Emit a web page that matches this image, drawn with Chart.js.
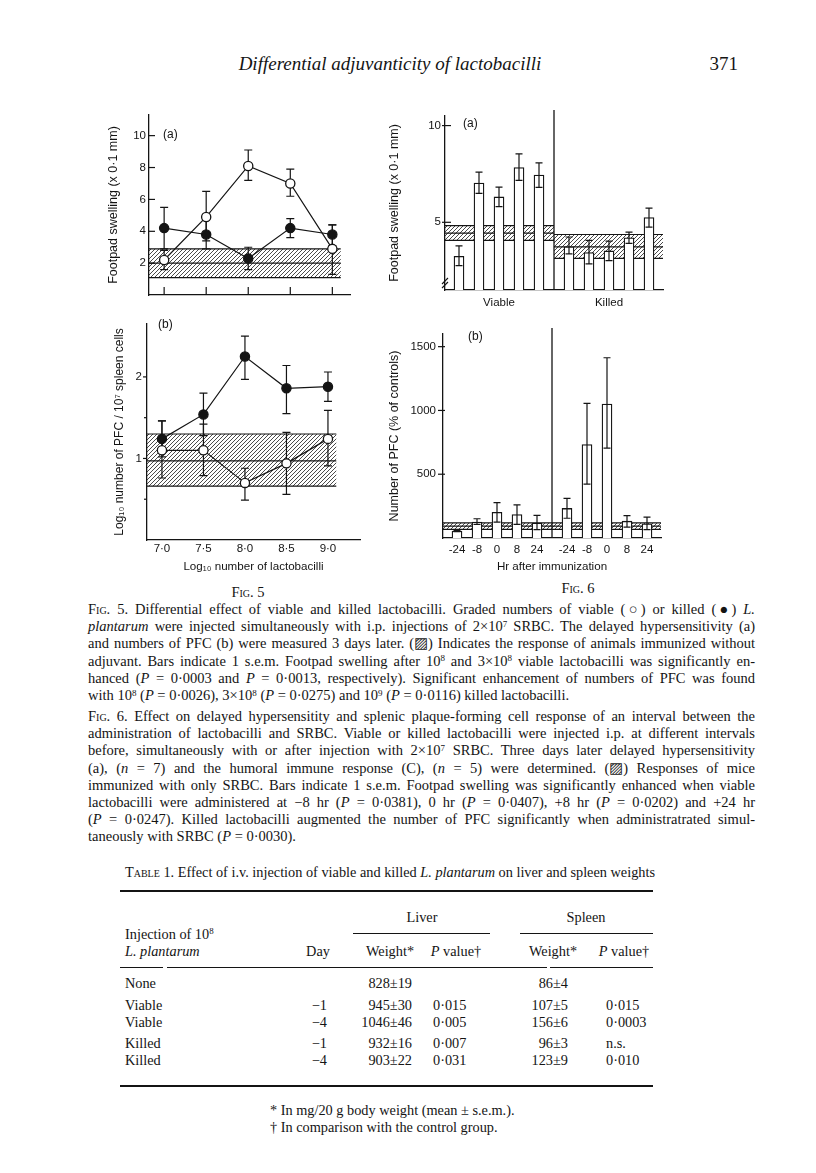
<!DOCTYPE html>
<html><head><meta charset="utf-8">
<script src="https://cdn.jsdelivr.net/npm/chart.js@4.4.1/dist/chart.umd.min.js"></script>
<style>
body{margin:0;background:#fff;}
#page{position:relative;width:816px;height:1173px;background:#fff;overflow:hidden;font-family:"Liberation Serif","Times New Roman",serif;color:#141414;}
canvas{position:absolute;}
.t{position:absolute;white-space:nowrap;}
.lbl{position:absolute;font-family:"Liberation Sans",Arial,sans-serif;font-size:12px;color:#141414;white-space:nowrap;}
.cap{position:absolute;left:88px;width:667px;font-size:14.5px;line-height:17.2px;}
.cap div{white-space:nowrap;text-align:justify;text-align-last:justify;}
.cap div.last{text-align-last:left;}
.sc{font-variant:small-caps;}
sup{font-size:0.62em;position:relative;top:-0.5em;vertical-align:baseline;line-height:0;}
i{font-style:italic;}
.rule{position:absolute;background:#141414;}
</style>
</head>
<body>
<div id="page">
  <div class="t" style="left:0;width:780px;text-align:center;top:52px;font-size:19px;line-height:24px;font-style:italic;">Differential adjuvanticity of lactobacilli</div>
  <div class="t" style="left:700px;width:38px;text-align:right;top:52px;font-size:19px;line-height:24px;">371</div>

  <canvas id="c5a" width="270" height="200" style="left:95px;top:105px;width:270px;height:200px;"></canvas>
  <canvas id="c5b" width="280" height="262" style="left:95px;top:312px;width:280px;height:262px;"></canvas>
  <canvas id="c6a" width="300" height="215" style="left:380px;top:105px;width:300px;height:215px;"></canvas>
  <canvas id="c6b" width="300" height="256" style="left:380px;top:320px;width:300px;height:256px;"></canvas>

  <div class="lbl" style="left:163px;top:127px;">(a)</div>
  <div class="lbl" style="left:158px;top:317px;">(b)</div>
  <div class="lbl" style="left:463px;top:116px;">(a)</div>
  <div class="lbl" style="left:468px;top:329px;">(b)</div>

  <div class="t" style="left:198px;width:100px;text-align:center;top:582px;font-size:14.5px;line-height:20px;"><span class="sc">Fig.</span> 5</div>
  <div class="t" style="left:528px;width:100px;text-align:center;top:578px;font-size:14.5px;line-height:20px;"><span class="sc">Fig.</span> 6</div>

  <div class="cap" style="top:601px;">
    <div><span class="sc">Fig.</span> 5. Differential effect of viable and killed lactobacilli. Graded numbers of viable (○) or killed (●) <i>L.</i></div>
    <div><i>plantarum</i> were injected simultaneously with i.p. injections of 2×10<sup>7</sup> SRBC. The delayed hypersensitivity (a)</div>
    <div>and numbers of PFC (b) were measured 3 days later. (▨) Indicates the response of animals immunized without</div>
    <div>adjuvant. Bars indicate 1 s.e.m. Footpad swelling after 10<sup>8</sup> and 3×10<sup>8</sup> viable lactobacilli was significantly en-</div>
    <div>hanced (<i>P</i> = 0·0003 and <i>P</i> = 0·0013, respectively). Significant enhancement of numbers of PFC was found</div>
    <div class="last">with 10<sup>8</sup> (<i>P</i> = 0·0026), 3×10<sup>8</sup> (<i>P</i> = 0·0275) and 10<sup>9</sup> (<i>P</i> = 0·0116) killed lactobacilli.</div>
  </div>
  <div class="cap" style="top:708px;">
    <div><span class="sc">Fig.</span> 6. Effect on delayed hypersensitity and splenic plaque-forming cell response of an interval between the</div>
    <div>administration of lactobacilli and SRBC. Viable or killed lactobacilli were injected i.p. at different intervals</div>
    <div>before, simultaneously with or after injection with 2×10<sup>7</sup> SRBC. Three days later delayed hypersensitivity</div>
    <div>(a), (<i>n</i> = 7) and the humoral immune response (C), (<i>n</i> = 5) were determined. (▨) Responses of mice</div>
    <div>immunized with only SRBC. Bars indicate 1 s.e.m. Footpad swelling was significantly enhanced when viable</div>
    <div>lactobacilli were administered at −8 hr (<i>P</i> = 0·0381), 0 hr (<i>P</i> = 0·0407), +8 hr (<i>P</i> = 0·0202) and +24 hr</div>
    <div>(<i>P</i> = 0·0247). Killed lactobacilli augmented the number of PFC significantly when administratrated simul-</div>
    <div class="last">taneously with SRBC (<i>P</i> = 0·0030).</div>
  </div>
</div>

<script>
// ---------------- DATA ----------------
// Fig. 5 – x axis: log10 number of lactobacilli
const logDose = [7.0, 7.5, 8.0, 8.5, 9.0];
const logDoseLabels = ['7·0', '7·5', '8·0', '8·5', '9·0'];

// Fig. 5(a) footpad swelling (x 0·1 mm)
const swellViable   = [2.2, 4.9, 8.1, 7.0, 2.9];
const swellViableLo = [1.6, 3.4, 7.2, 6.2, 1.3];
const swellViableHi = [2.8, 6.5, 9.1, 7.9, 4.4];
const swellKilled   = [4.2, 3.8, 2.3, 4.2, 3.8];
const swellKilledLo = [2.9, 2.9, 1.6, 3.6, 3.1];
const swellKilledHi = [5.5, 4.8, 3.0, 4.8, 4.4];
const swellControl  = [1.1, 2.0, 2.9];          // low, mean, high
const swellTicks    = [2, 4, 6, 8, 10];
const swellTickLabels = ['2', '4', '6', '8', '10'];

// Fig. 5(b) log10 PFC / 10^7 spleen cells
const pfcViable   = [1.10, 1.10, 0.70, 0.94, 1.24];
const pfcViableLo = [0.76, 0.79, 0.49, 0.56, 0.91];
const pfcViableHi = [1.46, 1.42, 0.88, 1.32, 1.59];
const pfcKilled   = [1.24, 1.54, 2.25, 1.86, 1.88];
const pfcKilledLo = [1.02, 1.28, 1.97, 1.55, 1.70];
const pfcKilledHi = [1.46, 1.80, 2.50, 2.14, 2.06];
const pfcControl  = [0.66, 0.97, 1.30];
const pfcTicks    = [0.5, 1, 1.5, 2];
const pfcTickLabels = ['', '1', '', '2'];
const controlBandEnd5 = 9.1;

// Fig. 6 – hours after immunization, viable / killed groups
const hours  = ['-24', '-8', '0', '8', '24'];
const groups = ['Viable', 'Killed'];

// Fig. 6(a) footpad swelling
const fp6Viable   = [3.24, 7.03, 6.31, 7.83, 7.44];
const fp6ViableLo = [2.76, 6.49, 5.81, 7.17, 6.80];
const fp6ViableHi = [3.78, 7.59, 6.82, 8.54, 8.07];
const fp6Killed   = [3.73, 3.44, 3.52, 4.20, 5.25];
const fp6KilledLo = [3.37, 2.85, 3.02, 3.91, 4.75];
const fp6KilledHi = [4.24, 4.07, 4.03, 4.49, 5.73];
const fp6ControlViable = [4.07, 4.44, 4.83];
const fp6ControlKilled = [3.13, 3.73, 4.37];
const fp6Ticks = [5, 10];
const fp6TickLabels = ['5', '10'];

// Fig. 6(b) number of PFC (% of controls)
const pfc6Viable   = [55, 125, 201, 184, 117];
const pfc6ViableLo = [50, 107, 125, 107, 66];
const pfc6ViableHi = [60, 151, 278, 260, 178];
const pfc6Killed   = [232, 732, 1050, 132, 112];
const pfc6KilledLo = [155, 423, 704, 86, 66];
const pfc6KilledHi = [311, 1056, 1413, 176, 163];
const pfc6ControlViable = [68, 93, 118];
const pfc6ControlKilled = [68, 93, 118];
const pfc6Ticks = [500, 1000, 1500];
const pfc6TickLabels = ['500', '1000', '1500'];

// Table 1
const tableTreatment = ['None', 'Viable', 'Viable', 'Killed', 'Killed'];
const tableDay       = ['', '−1', '−4', '−1', '−4'];
const liverWeight    = ['828±19', '945±30', '1046±46', '932±16', '903±22'];
const liverP         = ['', '0·015', '0·005', '0·007', '0·031'];
const spleenWeight   = ['86±4', '107±5', '156±6', '96±3', '123±9'];
const spleenP        = ['', '0·015', '0·0003', 'n.s.', '0·010'];

// ---------------- HELPERS ----------------
const INK = '#141414';
const SANS = '"Liberation Sans", Arial, sans-serif';

function hatchPattern(ctx) {
  const c = document.createElement('canvas');
  c.width = 4; c.height = 4;
  const g = c.getContext('2d');
  g.strokeStyle = '#2a2a2a'; g.lineWidth = 0.85;
  g.beginPath();
  g.moveTo(0, 4); g.lineTo(4, 0);
  g.moveTo(-1, 1); g.lineTo(1, -1);
  g.moveTo(3, 5); g.lineTo(5, 3);
  g.stroke();
  return ctx.createPattern(c, 'repeat');
}

const bandPlugin = {
  id: 'bands',
  beforeDatasetsDraw(chart, args, opts) {
    const items = opts.items || [];
    const ctx = chart.ctx, xs = chart.scales.x, ys = chart.scales.y;
    items.forEach(b => {
      const x0 = xs.getPixelForValue(b.x0), x1 = xs.getPixelForValue(b.x1);
      const yl = ys.getPixelForValue(b.v[0]), ym = ys.getPixelForValue(b.v[1]), yh = ys.getPixelForValue(b.v[2]);
      ctx.save();
      ctx.fillStyle = hatchPattern(ctx);
      ctx.fillRect(x0, yh, x1 - x0, yl - yh);
      ctx.strokeStyle = INK; ctx.lineWidth = 1.2;
      ctx.beginPath();
      [yl, ym, yh].forEach(y => { ctx.moveTo(x0, y); ctx.lineTo(x1, y); });
      ctx.stroke();
      ctx.restore();
    });
  }
};

function drawErr(chart, opts) {
  const ctx = chart.ctx, ys = chart.scales.y;
  const cap = opts.cap || 4;
  ctx.save();
  ctx.strokeStyle = INK; ctx.lineWidth = 1.2;
  (opts.sets || []).forEach(s => {
    const meta = chart.getDatasetMeta(s.ds);
    meta.data.forEach((el, i) => {
      const x = el.x;
      const yl = ys.getPixelForValue(s.lo[i]), yh = ys.getPixelForValue(s.hi[i]);
      ctx.beginPath();
      ctx.moveTo(x, yl); ctx.lineTo(x, yh);
      ctx.moveTo(x - cap, yl); ctx.lineTo(x + cap, yl);
      ctx.moveTo(x - cap, yh); ctx.lineTo(x + cap, yh);
      ctx.stroke();
    });
  });
  ctx.restore();
}
const errPlugin = {
  id: 'errbars',
  beforeDatasetsDraw(chart, args, opts) { if (opts.before) drawErr(chart, opts); },
  afterDatasetsDraw(chart, args, opts) { if (!opts.before) drawErr(chart, opts); }
};

const tickPlugin = {
  id: 'tickmarks',
  afterDraw(chart, args, opts) {
    const ctx = chart.ctx;
    ctx.save(); ctx.strokeStyle = INK; ctx.lineWidth = 1.2;
    ['x', 'y'].forEach(k => {
      const o = opts[k]; if (!o) return;
      const s = chart.scales[k];
      s.ticks.forEach(t => {
        const p = s.getPixelForValue(t.value);
        const minor = (t.label === '' || t.label === undefined) && o.minorOut !== undefined;
        const out = minor ? o.minorOut : (o.out || 0), inn = minor ? 0 : (o.inn || 0);
        ctx.beginPath();
        if (k === 'y') { const a = s.right; ctx.moveTo(a - out, p); ctx.lineTo(a + inn, p); }
        else { const a = s.top; ctx.moveTo(p, a + out); ctx.lineTo(p, a - inn); }
        ctx.stroke();
      });
    });
    ctx.restore();
  }
};

const decoPlugin = {
  id: 'deco',
  afterDatasetsDraw(chart, args, opts) {
    const ctx = chart.ctx, ca = chart.chartArea;
    ctx.save(); ctx.strokeStyle = INK; ctx.lineWidth = 1.3;
    if (opts.divider !== undefined) {
      const x = chart.scales.x.getPixelForValue(opts.divider);
      ctx.beginPath(); ctx.moveTo(x, ca.top - 6); ctx.lineTo(x, ca.bottom); ctx.stroke();
    }
    if (opts.axisBreak) {
      const x = ca.left, y = ca.bottom - 9;
      ctx.lineWidth = 1.1;
      ctx.beginPath();
      ctx.moveTo(x - 3, y + 3); ctx.lineTo(x + 3, y - 3);
      ctx.moveTo(x - 3, y + 7); ctx.lineTo(x + 3, y + 1);
      ctx.stroke();
    }
    ctx.restore();
  }
};

function yAxis(o) {
  const ts = o.tsize || 12.5;
  return {
    type: 'linear', position: 'left', min: o.min, max: o.max, offset: false,
    afterFit: s => { s.width = o.width; },
    afterBuildTicks: s => { s.ticks = o.ticks.map(v => ({ value: v })); },
    ticks: { autoSkip: false, color: INK, font: { family: SANS, size: 11.5 }, padding: o.pad,
             callback: (v, i) => o.labels[i] },
    grid: { display: false, drawTicks: false, offset: false },
    border: { display: true, color: INK, width: 1.3 },
    title: { display: !!o.title, text: o.title, color: INK, font: { family: SANS, size: ts },
             padding: { top: o.tpad, bottom: 0 } }
  };
}
function xAxis(o) {
  return {
    type: 'linear', position: 'bottom', min: o.min, max: o.max, offset: false,
    afterFit: s => { s.height = o.height; },
    afterBuildTicks: s => { s.ticks = o.ticks.map(v => ({ value: v })); },
    ticks: { display: !!o.labels, autoSkip: false, maxRotation: 0, color: INK,
             font: { family: SANS, size: 11.5 }, padding: o.pad || 0,
             callback: (v, i) => (o.labels ? o.labels[i] : '') },
    grid: { display: false, drawTicks: false, offset: false },
    border: { display: true, color: INK, width: 1.3 },
    title: { display: !!o.title, text: o.title, color: INK, font: { family: SANS, size: 11.6 },
             padding: { top: 0, bottom: 0 } }
  };
}
const baseOpts = { responsive: false, devicePixelRatio: 1, animation: false };
const noUI = { legend: { display: false }, tooltip: { enabled: false } };

function lineSet(xs, ys, filled) {
  return {
    data: xs.map((x, i) => ({ x, y: ys[i] })),
    borderColor: INK, borderWidth: 1.2, tension: 0,
    pointRadius: 4.6, pointBorderWidth: 1.3, pointBorderColor: INK,
    pointBackgroundColor: filled ? INK : '#fff'
  };
}

// ---------------- FIG 5(a) ----------------
new Chart(document.getElementById('c5a'), {
  type: 'line',
  data: { datasets: [lineSet(logDose, swellKilled, true), lineSet(logDose, swellViable, false)] },
  options: Object.assign({}, baseOpts, {
    layout: { padding: { left: 0, top: 8, right: 15, bottom: 0 } },
    scales: {
      x: xAxis({ min: 6.82, max: 9.21, height: 3, ticks: logDose }),
      y: yAxis({ min: 0, max: 11.3, width: 54, pad: 3, ticks: swellTicks, labels: swellTickLabels,
                 title: 'Footpad swelling (x 0·1 mm)', tpad: 11.5 })
    },
    plugins: Object.assign({}, noUI, {
      bands: { items: [{ x0: 6.82, x1: controlBandEnd5, v: swellControl }] },
      errbars: { before: true, cap: 4, sets: [
        { ds: 0, lo: swellKilledLo, hi: swellKilledHi },
        { ds: 1, lo: swellViableLo, hi: swellViableHi } ] },
      tickmarks: { y: { out: 0, inn: 6 }, x: { out: 0, inn: 8 } }
    })
  }),
  plugins: [bandPlugin, errPlugin, tickPlugin]
});

// ---------------- FIG 5(b) ----------------
new Chart(document.getElementById('c5b'), {
  type: 'line',
  data: { datasets: [lineSet(logDose, pfcKilled, true), lineSet(logDose, pfcViable, false)] },
  options: Object.assign({}, baseOpts, {
    layout: { padding: { left: 0, top: 7, right: 15, bottom: 0 } },
    scales: {
      x: xAxis({ min: 6.82, max: 9.386, height: 34, ticks: logDose, labels: logDoseLabels, pad: 2,
                 title: 'Log₁₀ number of lactobacilli' }),
      y: yAxis({ min: 0, max: 2.65, width: 52, pad: 5, ticks: pfcTicks, labels: pfcTickLabels,
                 title: 'Log₁₀ number of PFC / 10⁷ spleen cells', tpad: 17.8, tsize: 12 })
    },
    plugins: Object.assign({}, noUI, {
      bands: { items: [{ x0: 6.82, x1: controlBandEnd5, v: pfcControl }] },
      errbars: { before: true, cap: 4, sets: [
        { ds: 0, lo: pfcKilledLo, hi: pfcKilledHi },
        { ds: 1, lo: pfcViableLo, hi: pfcViableHi } ] },
      tickmarks: { y: { out: 4, inn: 0, minorOut: 3 } }
    })
  }),
  plugins: [bandPlugin, errPlugin, tickPlugin]
});

// ---------------- FIG 6 ----------------
const slot = (g, i) => g * 11 + 2 * i;            // bar slot on the x scale
const barSlots = groups.flatMap((g, gi) => hours.map((h, i) => slot(gi, i)));
const barLabels = groups.flatMap(() => hours);
const dividerSlot = (slot(0, hours.length - 1) + slot(1, 0)) / 2;
const groupCentres = groups.map((g, gi) => slot(gi, (hours.length - 1) / 2));
const X6MIN = -1.4, X6MAX = 20.4;

function barSet(vals) {
  return {
    data: barSlots.map((x, i) => ({ x, y: vals[i] })),
    backgroundColor: '#fff', borderColor: INK, borderWidth: 1.3,
    barThickness: 10
  };
}

new Chart(document.getElementById('c6a'), {
  type: 'bar',
  data: { datasets: [barSet(fp6Viable.concat(fp6Killed))] },
  options: Object.assign({}, baseOpts, {
    layout: { padding: { left: 0, top: 8, right: 17, bottom: 0 } },
    scales: {
      x: xAxis({ min: X6MIN, max: X6MAX, height: 30, ticks: groupCentres, labels: groups, pad: 6 }),
      y: yAxis({ min: 1.5, max: 10.5, width: 65, pad: 4, ticks: fp6Ticks, labels: fp6TickLabels,
                 title: 'Footpad swelling (x 0·1 mm)', tpad: 7.5 })
    },
    plugins: Object.assign({}, noUI, {
      bands: { items: [
        { x0: X6MIN, x1: dividerSlot, v: fp6ControlViable },
        { x0: dividerSlot, x1: X6MAX, v: fp6ControlKilled } ] },
      errbars: { before: false, cap: 3.5, sets: [
        { ds: 0, lo: fp6ViableLo.concat(fp6KilledLo), hi: fp6ViableHi.concat(fp6KilledHi) } ] },
      deco: { divider: dividerSlot, axisBreak: true },
      tickmarks: { y: { out: 3, inn: 6 } }
    })
  }),
  plugins: [bandPlugin, errPlugin, decoPlugin, tickPlugin]
});

new Chart(document.getElementById('c6b'), {
  type: 'bar',
  data: { datasets: [barSet(pfc6Viable.concat(pfc6Killed))] },
  options: Object.assign({}, baseOpts, {
    layout: { padding: { left: 0, top: 9, right: 19, bottom: 2 } },
    scales: {
      x: xAxis({ min: X6MIN, max: X6MAX, height: 36, ticks: barSlots, labels: barLabels, pad: 5,
                 title: 'Hr after immunization' }),
      y: yAxis({ min: 0, max: 1600, width: 63, pad: 7, ticks: pfc6Ticks, labels: pfc6TickLabels,
                 title: 'Number of PFC (% of controls)', tpad: 7.5 })
    },
    plugins: Object.assign({}, noUI, {
      bands: { items: [
        { x0: X6MIN, x1: dividerSlot, v: pfc6ControlViable },
        { x0: dividerSlot, x1: X6MAX, v: pfc6ControlKilled } ] },
      errbars: { before: false, cap: 3.5, sets: [
        { ds: 0, lo: pfc6ViableLo.concat(pfc6KilledLo), hi: pfc6ViableHi.concat(pfc6KilledHi) } ] },
      deco: { divider: dividerSlot },
      tickmarks: { y: { out: 5, inn: 2 } }
    })
  }),
  plugins: [bandPlugin, errPlugin, decoPlugin, tickPlugin]
});

// ---------------- TABLE ----------------
const page = document.getElementById('page');
function put(html, x, y, align, style) {
  const d = document.createElement('div');
  d.className = 't';
  d.style.fontSize = '14.3px';
  d.style.lineHeight = '17px';
  d.style.top = (y - 8.5) + 'px';
  if (align === 'right') { d.style.left = (x - 200) + 'px'; d.style.width = '200px'; d.style.textAlign = 'right'; }
  else if (align === 'center') { d.style.left = (x - 100) + 'px'; d.style.width = '200px'; d.style.textAlign = 'center'; }
  else { d.style.left = x + 'px'; }
  if (style) d.style.cssText += style;
  d.innerHTML = html;
  page.appendChild(d);
}
function rule(x0, x1, y, h) {
  const r = document.createElement('div');
  r.className = 'rule';
  r.style.left = x0 + 'px'; r.style.width = (x1 - x0) + 'px';
  r.style.top = y + 'px'; r.style.height = h + 'px';
  page.appendChild(r);
}
put('<span class="sc">Table</span> 1. Effect of i.v. injection of viable and killed <i>L. plantarum</i> on liver and spleen weights', 125, 872, 'left');
rule(120, 653, 890, 1.6);
put('Liver', 422, 917, 'center');
put('Spleen', 586, 917, 'center');
rule(353, 490, 933, 1.1);
rule(520, 653, 933, 1.1);
put('Injection of 10<sup>8</sup>', 125, 934, 'left');
put('<i>L. plantarum</i>', 125, 951, 'left');
put('Day', 318, 951, 'center');
put('Weight*', 390, 951, 'center');
put('<i>P</i> value†', 456, 951, 'center');
put('Weight*', 553, 951, 'center');
put('<i>P</i> value†', 624, 951, 'center');
rule(120, 163, 967, 1.1);
rule(167, 547, 967, 1.1);
rule(550, 653, 967, 1.1);
const rowY = [983, 1005, 1022, 1043, 1060];
tableTreatment.forEach((t, i) => {
  const y = rowY[i];
  put(t, 125, y, 'left');
  put(tableDay[i], 327, y, 'right');
  put(liverWeight[i], 412, y, 'right');
  put(liverP[i], 433, y, 'left');
  put(spleenWeight[i], 568, y, 'right');
  put(spleenP[i], 606, y, 'left');
});
rule(120, 653, 1085, 1.6);
put('* In mg/20 g body weight (mean ± s.e.m.).', 270, 1110, 'left');
put('† In comparison with the control group.', 270, 1127, 'left');
</script>
</body></html>
